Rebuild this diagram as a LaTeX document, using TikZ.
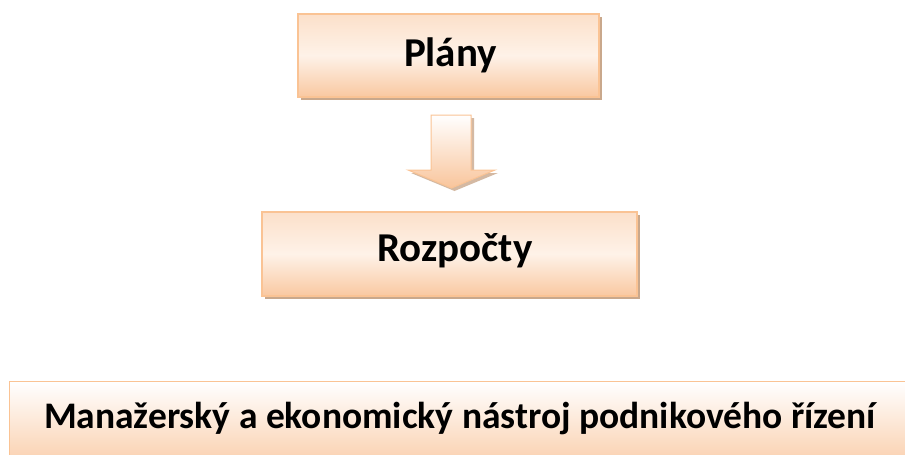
\documentclass[tikz,border=0pt]{standalone}
\usepackage{fontspec}
\setmainfont{Carlito}
\usetikzlibrary{shadows}
\definecolor{peachD}{HTML}{F8BE90}
\definecolor{peachM}{HTML}{FCE0CA}
\definecolor{peachL}{HTML}{FEF2E8}
\definecolor{edge}{HTML}{FAC394}
\definecolor{shad}{HTML}{C9A88C}
\tikzset{
  x=1pt,y=-1pt,
  box/.style={draw=edge, line width=1.2pt, top color=peachM, bottom color=peachD!85, middle color=peachL,
     font=\bfseries\fontsize{41}{48}\selectfont, text=black,
     drop shadow={shadow xshift=3pt, shadow yshift=-3pt, fill=shad, opacity=1}},
  wide/.style={draw=edge, line width=1.2pt, top color=white, bottom color=peachD!80},
  widetext/.style={font=\bfseries\fontsize{37.5}{44}\selectfont, text=black, anchor=base},
  arr/.style={draw=edge, line width=1pt, top color=white, bottom color=peachD!90,
     drop shadow={shadow xshift=3pt, shadow yshift=-3pt, fill=shad, opacity=0.8}}
}
\begin{document}
\begin{tikzpicture}
\useasboundingbox (0,0) rectangle (905,455);
\node[box, minimum width=301pt, minimum height=83pt, inner sep=0pt] (plany) at (448.5,55.5) {};
\node[font=\bfseries\fontsize{41}{48}\selectfont, anchor=base] (tplany) at (450.5,66.7) {Plány};
\node[box, minimum width=375pt, minimum height=84pt, inner sep=0pt] (rozp) at (449.5,254) {};
\node[font=\bfseries\fontsize{41}{48}\selectfont, anchor=base] (trozp) at (455,261.7) {Rozpočty};
\node[wide, minimum width=920pt, minimum height=90pt, inner sep=0pt, anchor=north west] (nastroj) at (9,381) {};
\node[widetext] (nt) at (460,428) {Manažerský a ekonomický nástroj podnikového řízení};
\path[arr] (431,115) -- (471,115) -- (471,170) -- (495,170) -- (451.5,188) -- (408,170) -- (431,170) -- cycle;
\end{tikzpicture}
\end{document}
